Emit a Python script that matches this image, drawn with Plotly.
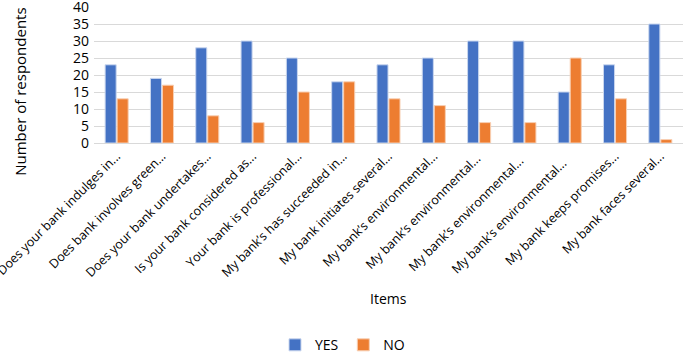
import plotly.graph_objects as go

categories = [
    "Does your bank indulges in...",
    "Does bank involves green...",
    "Does your bank undertakes...",
    "Is your bank considered as...",
    "Your bank is professional...",
    "My bank’s has succeeded in...",
    "My bank initiates several...",
    "My bank’s environmental...",
    "My bank’s environmental... ",
    "My bank’s environmental...  ",
    "My bank’s environmental...   ",
    "My bank keeps promises...",
    "My bank faces several...",
]
yes_values = [23, 19, 28, 30, 25, 18, 23, 25, 30, 30, 15, 23, 35]
no_values = [13, 17, 8, 6, 15, 18, 13, 11, 6, 6, 25, 13, 1]
y_ticks = [0, 5, 10, 15, 20, 25, 30, 35, 40]

font_family = "Open Sans, Noto Sans, sans-serif"

fig = go.Figure()
fig.add_trace(go.Bar(x=categories, y=yes_values, name="YES",
                     marker=dict(color="#4472C4", line=dict(color="#c9d6ee", width=1))))
fig.add_trace(go.Bar(x=categories, y=no_values, name="NO",
                     marker=dict(color="#ED7D31", line=dict(color="#f8cfb3", width=1))))

fig.update_layout(
    width=685, height=353,
    margin=dict(l=94, r=2, t=7, b=210),
    paper_bgcolor="white", plot_bgcolor="white",
    barmode="group", bargap=0.47, bargroupgap=0.08,
    font=dict(family=font_family, size=13, color="#000000"),
    legend=dict(orientation="h", xref="container", x=0.5, xanchor="center",
                yref="container", y=0.022, yanchor="middle",
                font=dict(size=14), itemwidth=30, traceorder="normal"),
    showlegend=True,
    annotations=[
        dict(text="Number of respondents", xref="paper", yref="paper", x=-0.126, y=0.375,
             xanchor="center", yanchor="middle", textangle=-90, showarrow=False,
             font=dict(size=15)),
        dict(text="Items", xref="paper", yref="paper", x=0.5, y=-1.147,
             xanchor="center", yanchor="middle", showarrow=False, font=dict(size=14)),
    ],
)
fig.update_xaxes(tickangle=-45, showgrid=False, showline=True, linecolor="#d9d9d9", linewidth=1,
                 ticks="", tickfont=dict(size=12.5), automargin=False)
fig.update_yaxes(range=[0, 40], tickvals=y_ticks, showgrid=True, gridcolor="#d9d9d9", gridwidth=1,
                 zeroline=False, ticks="", tickfont=dict(size=14), ticklabelstandoff=4,
                 ticklabeloverflow="allow", automargin=False)

fig.write_html("out.html", config={"displayModeBar": False},
               post_script="document.body.style.margin='0';document.body.style.padding='0';")
